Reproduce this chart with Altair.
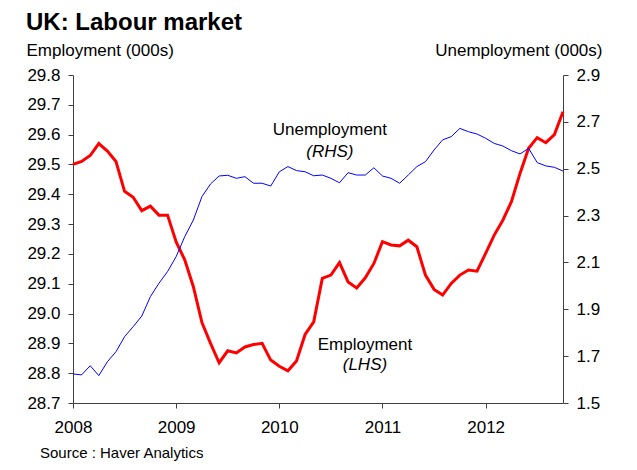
import altair as alt
import pandas as pd

# Monthly observations, Jan 2008 .. Oct 2012
start_year = 2008
employment = [29.50, 29.51, 29.53, 29.57, 29.545, 29.51, 29.41, 29.39, 29.345, 29.36,
              29.33, 29.33, 29.24, 29.18, 29.09, 28.97, 28.90, 28.835, 28.875, 28.868,
              28.888, 28.896, 28.90, 28.844, 28.823, 28.808, 28.841, 28.93, 28.972, 29.118,
              29.129, 29.171, 29.106, 29.086, 29.12, 29.168, 29.241, 29.23, 29.227, 29.246,
              29.224, 29.129, 29.081, 29.062, 29.101, 29.129, 29.146, 29.142, 29.202, 29.263,
              29.313, 29.375, 29.47, 29.554, 29.59, 29.573, 29.60, 29.677]
unemployment = [1.624, 1.62, 1.659, 1.617, 1.676, 1.719, 1.783, 1.826, 1.871, 1.954,
                2.011, 2.061, 2.125, 2.21, 2.281, 2.381, 2.435, 2.469, 2.472, 2.459,
                2.466, 2.438, 2.438, 2.426, 2.487, 2.509, 2.492, 2.487, 2.47, 2.473,
                2.459, 2.44, 2.483, 2.473, 2.473, 2.504, 2.469, 2.459, 2.438, 2.473,
                2.509, 2.53, 2.58, 2.623, 2.637, 2.672, 2.658, 2.648, 2.63, 2.608,
                2.597, 2.577, 2.563, 2.587, 2.526, 2.512, 2.506, 2.49]
years = [start_year + m / 12 for m in range(len(employment))]

year_ticks = [2008, 2009, 2010, 2011, 2012]
left_ticks = [28.7, 28.8, 28.9, 29.0, 29.1, 29.2, 29.3, 29.4, 29.5, 29.6, 29.7, 29.8]
right_ticks = [1.5, 1.7, 1.9, 2.1, 2.3, 2.5, 2.7, 2.9]

title_text = "UK: Labour market"
left_title = "Employment (000s)"
right_title = "Unemployment (000s)"
source_text = "Source : Haver Analytics"

emp_label = ["Employment", "(LHS)"]
emp_label_pos = [(2010.83, 28.894), (2010.83, 28.827)]
unemp_label = ["Unemployment", "(RHS)"]
unemp_label_pos = [(2010.49, 2.665), (2010.49, 2.571)]

df = pd.DataFrame({"year": years, "employment": employment, "unemployment": unemployment})

FONT = "Liberation Sans"
W, H = 490, 328

xscale = alt.Scale(domain=[2008, 2012.75], nice=False, zero=False)
xaxis = alt.Axis(values=year_ticks, format="d", title=None, grid=False, tickSize=5,
                 labelPadding=11, labelFontSize=17, labelFont=FONT, labelColor="black",
                 domainColor="#404040", tickColor="#404040", labelFlush=False,
                 labelOverlap=False)

x = alt.X("year:Q", scale=xscale, axis=xaxis)

left_scale = alt.Scale(domain=[28.7, 29.8], nice=False, zero=False)
right_scale = alt.Scale(domain=[1.5, 2.9], nice=False, zero=False)

left_axis = alt.Axis(orient="left", values=left_ticks, format=".1f", grid=False,
                     tickSize=5, labelPadding=8, labelFontSize=17, labelFont=FONT,
                     labelColor="black", domainColor="#404040", tickColor="#404040",
                     title=left_title, titleAngle=0, titleAlign="left",
                     titleBaseline="middle", titleX=-47, titleY=-25,
                     titleFont=FONT, titleFontSize=17, titleFontWeight="normal",
                     titleColor="black", labelFlush=False, labelOverlap=False,
                     labelBound=False)
right_axis = alt.Axis(orient="right", values=right_ticks, format=".1f", grid=False,
                      tickSize=5, labelPadding=8, labelFontSize=17, labelFont=FONT,
                      labelColor="black", domainColor="#404040", tickColor="#404040",
                      title=right_title, titleAngle=0, titleAlign="right",
                      titleBaseline="middle", titleX=39, titleY=-25,
                      titleFont=FONT, titleFontSize=17, titleFontWeight="normal",
                      titleColor="black", labelFlush=False, labelOverlap=False,
                      labelBound=False)

y_left = alt.Y("employment:Q", scale=left_scale, axis=left_axis)
y_right = alt.Y("unemployment:Q", scale=right_scale, axis=right_axis)

left_line = alt.Chart(df).mark_line(color="#ff0000", strokeWidth=3).encode(x=x, y=y_left)

emp_df = pd.DataFrame({"year": [p[0] for p in emp_label_pos],
                       "employment": [p[1] for p in emp_label_pos],
                       "t": emp_label})
emp_t1 = alt.Chart(emp_df.iloc[[0]]).mark_text(font=FONT, fontSize=17, color="black").encode(
    x=x, y=y_left, text="t:N")
emp_t2 = alt.Chart(emp_df.iloc[[1]]).mark_text(font=FONT, fontSize=17, fontStyle="italic",
                                              color="black").encode(
    x=x, y=y_left, text="t:N")

left_layer = alt.layer(left_line, emp_t1, emp_t2)

right_line = alt.Chart(df).mark_line(color="#0000ff", strokeWidth=1).encode(x=x, y=y_right)

un_df = pd.DataFrame({"year": [p[0] for p in unemp_label_pos],
                      "unemployment": [p[1] for p in unemp_label_pos],
                      "t": unemp_label})
un_t1 = alt.Chart(un_df.iloc[[0]]).mark_text(font=FONT, fontSize=17, color="black").encode(
    x=x, y=y_right, text="t:N")
un_t2 = alt.Chart(un_df.iloc[[1]]).mark_text(font=FONT, fontSize=17, fontStyle="italic",
                                            color="black").encode(
    x=x, y=y_right, text="t:N")

right_layer = alt.layer(right_line, un_t1, un_t2)

txt = pd.DataFrame({"t": [title_text]})
title_mark = alt.Chart(txt).mark_text(font=FONT, fontSize=24, fontWeight="bold", align="left",
                                      baseline="alphabetic", color="black").encode(
    x=alt.value(-47), y=alt.value(-45), text="t:N")
src = pd.DataFrame({"s": [source_text]})
source_mark = alt.Chart(src).mark_text(font=FONT, fontSize=15, align="left",
                                       baseline="alphabetic", color="black").encode(
    x=alt.value(-33), y=alt.value(383), text="s:N")

chart = alt.layer(left_layer, right_layer, title_mark, source_mark).resolve_scale(
    y="independent"
).properties(
    width=W, height=H,
    autosize=alt.AutoSizeParams(type="none"),
    padding={"left": 65, "top": 67, "right": 66, "bottom": 59},
).configure_view(strokeWidth=0)

chart.save("out.html", embed_options={"renderer": "svg", "actions": False})
